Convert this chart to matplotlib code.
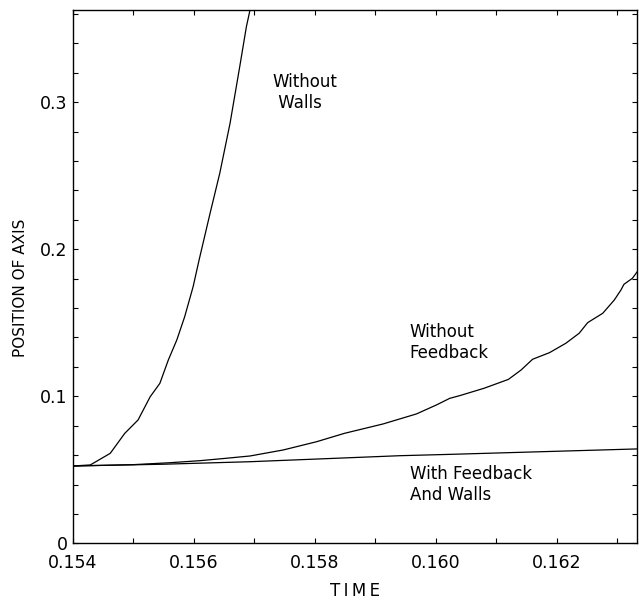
import matplotlib.pyplot as plt
from matplotlib.ticker import MultipleLocator, FixedLocator, FixedFormatter

# values
walls_free_t = [0.15400, 0.15429, 0.15462, 0.15486, 0.15508, 0.15528, 0.15544, 0.15558,
                0.15572, 0.15585, 0.15599, 0.15609, 0.15627, 0.15643, 0.15660, 0.15676,
                0.15687, 0.15693]
walls_free_y = [0.0526, 0.0533, 0.0612, 0.0748, 0.0839, 0.0997, 0.1088, 0.1247,
                0.1383, 0.1541, 0.1746, 0.1930, 0.2245, 0.2517, 0.2857, 0.3242,
                0.3514, 0.3628]

no_feedback_t = [0.15400, 0.15500, 0.15560, 0.15610, 0.15650, 0.15693, 0.15748, 0.15803,
                 0.15849, 0.15913, 0.15968, 0.16001, 0.16023, 0.16040, 0.16080, 0.16120,
                 0.16141, 0.16160, 0.16188, 0.16215, 0.16237, 0.16251, 0.16276, 0.16295,
                 0.16306, 0.16311, 0.16325, 0.16333]
no_feedback_y = [0.0526, 0.0535, 0.0548, 0.0562, 0.0577, 0.0594, 0.0635, 0.0691,
                 0.0748, 0.0812, 0.0880, 0.0941, 0.0986, 0.1005, 0.1055, 0.1115,
                 0.1179, 0.1252, 0.1297, 0.1361, 0.1429, 0.1501, 0.1565, 0.1655,
                 0.1723, 0.1762, 0.1803, 0.1848]

feedback_walls_t = [0.15400, 0.15550, 0.15693, 0.15941, 0.16023, 0.16333]
feedback_walls_y = [0.0526, 0.0538, 0.0555, 0.0596, 0.0605, 0.0642]

xtick_vals = [0.154, 0.156, 0.158, 0.160, 0.162]
xtick_labels = ["0.154", "0.156", "0.158", "0.160", "0.162"]
ytick_vals = [0.0, 0.1, 0.2, 0.3]
ytick_labels = ["0", "0.1", "0.2", "0.3"]

fig = plt.figure(figsize=(6.39, 6.01), dpi=100)
ax = fig.add_axes([0.1138, 0.096, 0.8835, 0.8874])

lw = 0.9
ax.plot(walls_free_t, walls_free_y, color="black", lw=lw)
ax.plot(no_feedback_t, no_feedback_y, color="black", lw=lw)
ax.plot(feedback_walls_t, feedback_walls_y, color="black", lw=lw)

ax.set_xlim(0.154, 0.16333)
ax.set_ylim(0, 0.3628)

# ticks: inward on all four sides
ax.xaxis.set_major_locator(FixedLocator(xtick_vals))
ax.xaxis.set_major_formatter(FixedFormatter(xtick_labels))
ax.xaxis.set_minor_locator(MultipleLocator(0.001))
ax.yaxis.set_major_locator(FixedLocator(ytick_vals))
ax.yaxis.set_major_formatter(FixedFormatter(ytick_labels))
ax.yaxis.set_minor_locator(MultipleLocator(0.02))
ax.tick_params(which="both", direction="in", top=True, right=True,
               length=3.5, width=0.8)
ax.tick_params(axis="x", which="major", labelsize=12.5, pad=8)
ax.tick_params(axis="y", which="major", labelsize=12.5, pad=3.5)
for s in ax.spines.values():
    s.set_linewidth(1.0)

ax.set_xlabel("T\u2009I\u2009M\u2009E", fontsize=12)
ax.xaxis.set_label_coords(0.5, -0.072)
ax.set_ylabel("POSITION OF AXIS", fontsize=11)
ax.yaxis.set_label_coords(-0.079, 0.479)

# curve annotations
ax.text(0.157305, 0.3199, "Without\n Walls", fontsize=12, ha="left", va="top",
        linespacing=1.2)
ax.text(0.159566, 0.1499, "Without\nFeedback", fontsize=12, ha="left", va="top",
        linespacing=1.2)
ax.text(0.159566, 0.0533, "With Feedback\nAnd Walls", fontsize=12, ha="left", va="top",
        linespacing=1.25)

fig.savefig("out.png", dpi=100)
